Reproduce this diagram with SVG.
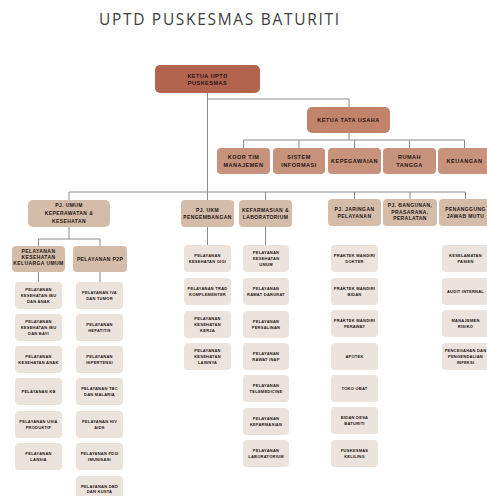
<svg xmlns="http://www.w3.org/2000/svg" width="487" height="496" viewBox="0 0 487 496">
<style>
text{font-family:"Liberation Sans",Arial,sans-serif;font-weight:bold;fill:#1e1512;text-anchor:middle}
.title{font-family:"Open Sans","Liberation Sans",sans-serif;font-weight:normal;font-size:15.5px;fill:#3d3d3d;text-anchor:start}
.t1{font-size:5.5px;letter-spacing:0.5px}
.t2{font-size:5px;letter-spacing:0.4px}
.t3{font-size:4px;letter-spacing:0.25px}
.k0{fill:#b2644e}
.k1{fill:#c2836b}
.k2{fill:#c8937d}
.l2{fill:#d5bca9}
.lf{fill:#ebe3dc}
.cn{fill:none;stroke:#8a8a8a;stroke-width:1}
</style>
<rect width="487" height="496" fill="#ffffff"/>
<text class="title" x="99" y="25" textLength="240" lengthAdjust="spacing">UPTD PUSKESMAS BATURITI</text>

<g id="connectors" class="cn">
<path d="M207.5,93 V200"/>
<path d="M207.5,99 H349 V107"/>
<path d="M349,133 V140 M243.5,140 H464.5 M243.5,140 V148 M299,140 V148 M354.5,140 V148 M409.5,140 V148 M464.5,140 V148"/>
<path d="M69,192 H465.5 M69,192 V200 M265.5,192 V200 M354.5,192 V200 M410,192 V200 M465.5,192 V200"/>
<path d="M69,227 V239 M38.5,239 H100 M38.5,239 V246 M100,239 V246"/>
<path d="M38.5,272 V282 M100,272 V282"/>
<path d="M207.5,227 V245 M265.5,227 V245"/>
</g>

<g id="ketua"><rect class="k0" x="155" y="65" width="105" height="28" rx="5"/><text class="t1" x="207.5"><tspan x="207.5" y="77.5">KETUA UPTD</tspan><tspan x="207.5" y="85">PUSKESMAS</tspan></text></g>
<g id="tatausaha"><rect class="k1" x="307" y="107" width="83" height="26" rx="5"/><text class="t1" x="348.5" y="121.9">KETUA TATA USAHA</text></g>

<g id="koor"><rect class="k2" x="217" y="148" width="53" height="26" rx="4"/><text class="t1"><tspan x="243.5" y="159">KOOR TIM</tspan><tspan x="243.5" y="167">MANAJEMEN</tspan></text></g>
<g id="sistem"><rect class="k2" x="273" y="148" width="52" height="26" rx="4"/><text class="t1"><tspan x="299" y="159">SISTEM</tspan><tspan x="299" y="167">INFORMASI</tspan></text></g>
<g id="kepegawaian"><rect class="k2" x="328" y="148" width="53" height="26" rx="4"/><text class="t1" x="354.5" y="162.9">KEPEGAWAIAN</text></g>
<g id="rumahtangga"><rect class="k2" x="383" y="148" width="53" height="26" rx="4"/><text class="t1"><tspan x="409.5" y="159">RUMAH</tspan><tspan x="409.5" y="167">TANGGA</tspan></text></g>
<g id="keuangan"><rect class="k2" x="438" y="148" width="53" height="26" rx="4"/><text class="t1" x="464.5" y="162.9">KEUANGAN</text></g>

<g id="pjumum"><rect class="l2" x="28" y="200" width="82" height="27" rx="5"/><text class="t2"><tspan x="69" y="207.2">PJ. UMUM</tspan><tspan x="69" y="215.2">KEPERAWATAN &amp;</tspan><tspan x="69" y="223.2">KESEHATAN</tspan></text></g>
<g id="pjukm"><rect class="l2" x="181" y="200" width="53" height="27" rx="4"/><text class="t2"><tspan x="207.5" y="212.4">PJ. UKM</tspan><tspan x="207.5" y="218.6">PENGEMBANGAN</tspan></text></g>
<g id="kefarmasian"><rect class="l2" x="239" y="200" width="53" height="27" rx="4"/><text class="t2"><tspan x="265.5" y="212.4">KEFARMASIAN &amp;</tspan><tspan x="265.5" y="218.6">LABORATORIUM</tspan></text></g>
<g id="pjjaringan"><rect class="l2" x="328" y="199" width="53" height="27" rx="4"/><text class="t2"><tspan x="354.5" y="211.4">PJ. JARINGAN</tspan><tspan x="354.5" y="217.6">PELAYANAN</tspan></text></g>
<g id="pjbangunan"><rect class="l2" x="383" y="199" width="54" height="27" rx="4"/><text class="t2"><tspan x="410" y="207.3">PJ. BANGUNAN,</tspan><tspan x="410" y="213.8">PRASARANA,</tspan><tspan x="410" y="220.3">PERALATAN</tspan></text></g>
<g id="pjmutu"><rect class="l2" x="439" y="199" width="53" height="27" rx="4"/><text class="t2"><tspan x="465.5" y="211.4">PENANGGUNG</tspan><tspan x="465.5" y="217.6">JAWAB MUTU</tspan></text></g>

<g id="keluargaumum"><rect class="l2" x="12" y="246" width="53" height="26" rx="4"/><text class="t2"><tspan x="38.5" y="253.3">PELAYANAN</tspan><tspan x="38.5" y="259.1">KESEHATAN</tspan><tspan x="38.5" y="264.9">KELUARGA UMUM</tspan></text></g>
<g id="p2p"><rect class="l2" x="73" y="246" width="54" height="26" rx="4"/><text class="t2" x="100" y="260.7">PELAYANAN P2P</text></g>

<g id="leafA">
<g id="a1"><rect class="lf" x="15" y="282" width="47" height="27" rx="4"/><text class="t3"><tspan x="38.5" y="291.1">PELAYANAN</tspan><tspan x="38.5" y="296.9">KESEHATAN IBU</tspan><tspan x="38.5" y="302.7">DAN ANAK</tspan></text></g>
<g id="a2"><rect class="lf" x="15" y="314" width="47" height="27" rx="4"/><text class="t3"><tspan x="38.5" y="323.1">PELAYANAN</tspan><tspan x="38.5" y="328.9">KESEHATAN IBU</tspan><tspan x="38.5" y="334.7">DAN BAYI</tspan></text></g>
<g id="a3"><rect class="lf" x="15" y="346" width="47" height="27" rx="4"/><text class="t3"><tspan x="38.5" y="358">PELAYANAN</tspan><tspan x="38.5" y="363.8">KESEHATAN ANAK</tspan></text></g>
<g id="a4"><rect class="lf" x="15" y="378" width="47" height="27" rx="4"/><text class="t3" x="38.5" y="392.9">PELAYANAN KB</text></g>
<g id="a5"><rect class="lf" x="15" y="411" width="47" height="27" rx="4"/><text class="t3"><tspan x="38.5" y="423">PELAYANAN USIA</tspan><tspan x="38.5" y="428.8">PRODUKTIF</tspan></text></g>
<g id="a6"><rect class="lf" x="15" y="443" width="47" height="27" rx="4"/><text class="t3"><tspan x="38.5" y="455">PELAYANAN</tspan><tspan x="38.5" y="460.8">LANSIA</tspan></text></g>
</g>

<g id="leafB">
<g id="b1"><rect class="lf" x="76" y="282" width="47" height="27" rx="4"/><text class="t3"><tspan x="99.5" y="294">PELAYANAN IVA</tspan><tspan x="99.5" y="299.8">DAN TUMOR</tspan></text></g>
<g id="b2"><rect class="lf" x="76" y="314" width="47" height="27" rx="4"/><text class="t3"><tspan x="99.5" y="326">PELAYANAN</tspan><tspan x="99.5" y="331.8">HEPATITIS</tspan></text></g>
<g id="b3"><rect class="lf" x="76" y="346" width="47" height="27" rx="4"/><text class="t3"><tspan x="99.5" y="358">PELAYANAN</tspan><tspan x="99.5" y="363.8">HIPERTENSI</tspan></text></g>
<g id="b4"><rect class="lf" x="76" y="378" width="47" height="27" rx="4"/><text class="t3"><tspan x="99.5" y="390">PELAYANAN TBC</tspan><tspan x="99.5" y="395.8">DAN MALARIA</tspan></text></g>
<g id="b5"><rect class="lf" x="76" y="411" width="47" height="27" rx="4"/><text class="t3"><tspan x="99.5" y="423">PELAYANAN HIV</tspan><tspan x="99.5" y="428.8">AIDS</tspan></text></g>
<g id="b6"><rect class="lf" x="76" y="443" width="47" height="27" rx="4"/><text class="t3"><tspan x="99.5" y="455">PELAYANAN PD3I</tspan><tspan x="99.5" y="460.8">IMUNISASI</tspan></text></g>
<g id="b7"><rect class="lf" x="76" y="476" width="47" height="27" rx="4"/><text class="t3"><tspan x="99.5" y="487.5">PELAYANAN DBD</tspan><tspan x="99.5" y="493.3">DAN KUSTA</tspan></text></g>
</g>

<g id="leafC">
<g id="c1"><rect class="lf" x="184" y="245" width="47" height="27" rx="4"/><text class="t3"><tspan x="207.5" y="257">PELAYANAN</tspan><tspan x="207.5" y="262.8">KESEHATAN GIGI</tspan></text></g>
<g id="c2"><rect class="lf" x="184" y="278" width="47" height="27" rx="4"/><text class="t3"><tspan x="207.5" y="290">PELAYANAN TRAD</tspan><tspan x="207.5" y="295.8">KOMPLEMENTER</tspan></text></g>
<g id="c3"><rect class="lf" x="184" y="311" width="47" height="27" rx="4"/><text class="t3"><tspan x="207.5" y="320.1">PELAYANAN</tspan><tspan x="207.5" y="325.9">KESEHATAN</tspan><tspan x="207.5" y="331.7">KERJA</tspan></text></g>
<g id="c4"><rect class="lf" x="184" y="343" width="47" height="27" rx="4"/><text class="t3"><tspan x="207.5" y="352.1">PELAYANAN</tspan><tspan x="207.5" y="357.9">KESEHATAN</tspan><tspan x="207.5" y="363.7">LAINNYA</tspan></text></g>
</g>

<g id="leafD">
<g id="d1"><rect class="lf" x="243" y="245" width="46" height="27" rx="4"/><text class="t3"><tspan x="266" y="254.1">PELAYANAN</tspan><tspan x="266" y="259.9">KESEHATAN</tspan><tspan x="266" y="265.7">UMUM</tspan></text></g>
<g id="d2"><rect class="lf" x="243" y="278" width="46" height="27" rx="4"/><text class="t3"><tspan x="266" y="290">PELAYANAN</tspan><tspan x="266" y="295.8">RAWAT DARURAT</tspan></text></g>
<g id="d3"><rect class="lf" x="243" y="311" width="46" height="27" rx="4"/><text class="t3"><tspan x="266" y="323">PELAYANAN</tspan><tspan x="266" y="328.8">PERSALINAN</tspan></text></g>
<g id="d4"><rect class="lf" x="243" y="343" width="46" height="27" rx="4"/><text class="t3"><tspan x="266" y="355">PELAYANAN</tspan><tspan x="266" y="360.8">RAWAT INAP</tspan></text></g>
<g id="d5"><rect class="lf" x="243" y="375" width="46" height="27" rx="4"/><text class="t3"><tspan x="266" y="387">PELAYANAN</tspan><tspan x="266" y="392.8">TELEMEDICINE</tspan></text></g>
<g id="d6"><rect class="lf" x="243" y="408" width="46" height="27" rx="4"/><text class="t3"><tspan x="266" y="420">PELAYANAN</tspan><tspan x="266" y="425.8">KEFARMASIAN</tspan></text></g>
<g id="d7"><rect class="lf" x="243" y="440" width="46" height="27" rx="4"/><text class="t3"><tspan x="266" y="452">PELAYANAN</tspan><tspan x="266" y="457.8">LABORATORIUM</tspan></text></g>
</g>

<g id="leafE">
<g id="e1"><rect class="lf" x="331" y="245" width="47" height="27" rx="4"/><text class="t3"><tspan x="354.5" y="257">PRAKTEK MANDIRI</tspan><tspan x="354.5" y="262.8">DOKTER</tspan></text></g>
<g id="e2"><rect class="lf" x="331" y="278" width="47" height="27" rx="4"/><text class="t3"><tspan x="354.5" y="290">PRAKTEK MANDIRI</tspan><tspan x="354.5" y="295.8">BIDAN</tspan></text></g>
<g id="e3"><rect class="lf" x="331" y="310" width="47" height="27" rx="4"/><text class="t3"><tspan x="354.5" y="322">PRAKTEK MANDIRI</tspan><tspan x="354.5" y="327.8">PERAWAT</tspan></text></g>
<g id="e4"><rect class="lf" x="331" y="343" width="47" height="27" rx="4"/><text class="t3" x="354.5" y="357.9">APOTEK</text></g>
<g id="e5"><rect class="lf" x="331" y="375" width="47" height="27" rx="4"/><text class="t3" x="354.5" y="389.9">TOKO OBAT</text></g>
<g id="e6"><rect class="lf" x="331" y="407" width="47" height="27" rx="4"/><text class="t3"><tspan x="354.5" y="419">BIDAN DESA</tspan><tspan x="354.5" y="424.8">BATURITI</tspan></text></g>
<g id="e7"><rect class="lf" x="331" y="440" width="47" height="27" rx="4"/><text class="t3"><tspan x="354.5" y="452">PUSKESMAS</tspan><tspan x="354.5" y="457.8">KELILING</tspan></text></g>
</g>

<g id="leafF">
<g id="f1"><rect class="lf" x="442" y="245" width="47" height="27" rx="4"/><text class="t3"><tspan x="465.5" y="257">KESELAMATAN</tspan><tspan x="465.5" y="262.8">PASIEN</tspan></text></g>
<g id="f2"><rect class="lf" x="442" y="278" width="47" height="27" rx="4"/><text class="t3" x="465.5" y="292.9">AUDIT INTERNAL</text></g>
<g id="f3"><rect class="lf" x="442" y="310" width="47" height="27" rx="4"/><text class="t3"><tspan x="465.5" y="322">MANAJEMEN</tspan><tspan x="465.5" y="327.8">RISIKO</tspan></text></g>
<g id="f4"><rect class="lf" x="442" y="343" width="47" height="27" rx="4"/><text class="t3"><tspan x="465.5" y="352.1">PENCEGAHAN DAN</tspan><tspan x="465.5" y="357.9">PENGENDALIAN</tspan><tspan x="465.5" y="363.7">INFEKSI</tspan></text></g>
</g>
</svg>
